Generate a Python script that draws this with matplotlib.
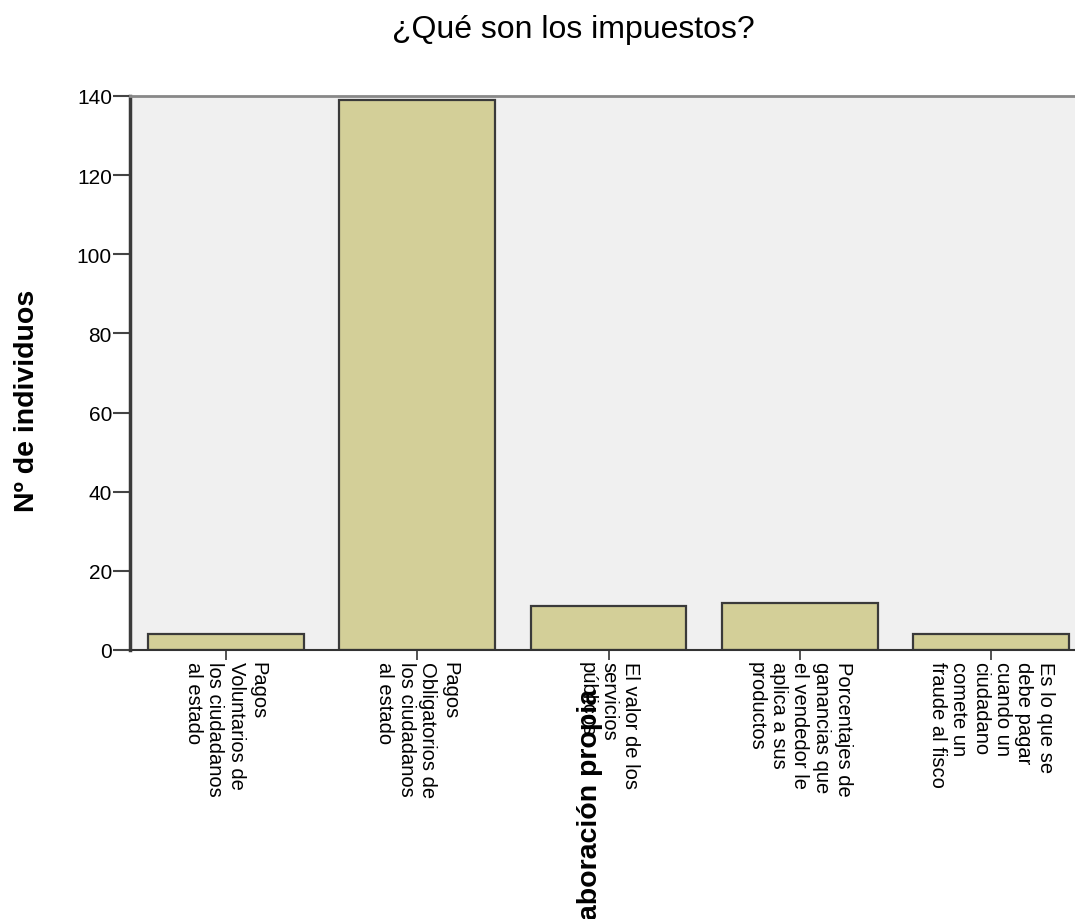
import matplotlib
matplotlib.use("Agg")
import matplotlib.pyplot as plt
import numpy as np

plt.rcParams["font.family"] = ["Liberation Sans", "DejaVu Sans"]

# Data
CATEGORIES = [
    "Pagos\nVoluntarios de\nlos ciudadanos\nal estado",
    "Pagos\nObligatorios de\nlos ciudadanos\nal estado",
    "El valor de los\nservicios\npúblicos",
    "Porcentajes de\nganancias que\nel vendedor le\naplica a sus\nproductos",
    "Es lo que se\ndebe pagar\ncuando un\nciudadano\ncomete un\nfraude al fisco",
]
COUNTS = [4, 139, 11, 12, 4]
Y_TICKS = [0, 20, 40, 60, 80, 100, 120, 140]

TITLE = "¿Qué son los impuestos?"
Y_LABEL = "Nº de individuos"
X_LABEL = "Elaboración propia"

W, H = 1075, 920
fig = plt.figure(figsize=(W / 100, H / 100), dpi=100)

# axes box in pixel coords (right edge runs past the image, as in the reference)
left, right, top, bottom = 130, 1087, 97, 651
ax = fig.add_axes([left / W, 1 - bottom / H, (right - left) / W, (bottom - top) / H])
ax.set_facecolor("#F0F0F0")

x = np.arange(len(CATEGORIES))
ax.bar(x, COUNTS, width=0.815, color="#D3CF98", edgecolor="#3A3A3A", linewidth=1.6, zorder=2)

ax.set_xlim(-0.5, len(CATEGORIES) - 0.5)
ax.set_ylim(0, 140)
ax.set_yticks(Y_TICKS)
ax.set_xticks(x)
ax.set_xticklabels(CATEGORIES, rotation=270, fontsize=14.5, linespacing=1.18,
                   ha="center", va="top", multialignment="left")
ax.tick_params(axis="y", length=12.5, width=1.5, color="#444444", labelsize=15, pad=0.5)
ax.tick_params(axis="x", length=7.5, width=1.3, color="#444444", pad=0.5)

ax.spines["left"].set_color("#3A3A3A")
ax.spines["left"].set_linewidth(2.5)
ax.spines["top"].set_color("#888888")
ax.spines["top"].set_linewidth(2.0)
ax.spines["bottom"].set_color("#333333")
ax.spines["bottom"].set_linewidth(1.5)
ax.spines["right"].set_visible(False)

fig.text(573 / W, 1 - 30 / H, TITLE, ha="center", va="center", fontsize=23)
fig.text(27 / W, 1 - 401 / H, Y_LABEL, rotation=90, ha="center", va="center",
         fontsize=20.5, fontweight="bold")
# the source label sits over the tick labels and is clipped at the bottom edge
fig.text(590 / W, 1 - 818 / H, X_LABEL, rotation=90, ha="center", va="center",
         fontsize=20.5, fontweight="bold")

fig.savefig("out.png", dpi=100)
